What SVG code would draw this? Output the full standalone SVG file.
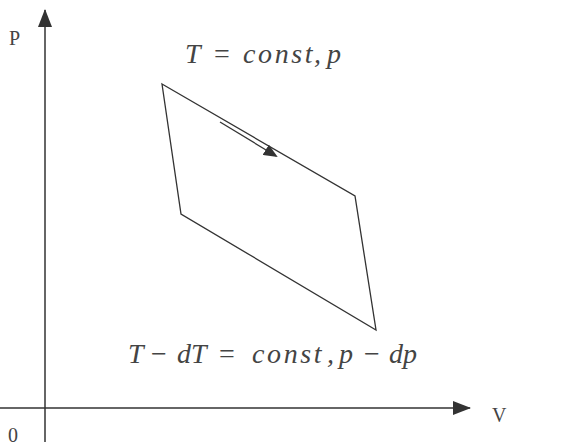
<svg xmlns="http://www.w3.org/2000/svg" width="561" height="445" viewBox="0 0 561 445">
<style>
.ln{stroke:#333;stroke-width:1.3;fill:none}
.ax{stroke:#333;stroke-width:1.5;fill:none}
.lab{font-family:"Liberation Serif",serif;font-size:20px;fill:#444}
.eq{font-family:"Liberation Serif",serif;font-style:italic;font-size:28px;fill:#444}
.up{font-style:normal}
.cs{letter-spacing:2.6px}
</style>
<defs>
<marker id="ah" markerWidth="14" markerHeight="12" refX="12" refY="6" orient="auto" markerUnits="userSpaceOnUse">
<path d="M0,0 L14,6 L0,12 Z" fill="#333"/>
</marker>
<marker id="sh" markerWidth="18" markerHeight="14" refX="17" refY="7" orient="auto" markerUnits="userSpaceOnUse">
<path d="M0,0 L18,7 L0,14 Z" fill="#333"/>
</marker>
</defs>
<rect width="561" height="445" fill="#fff"/>
<g id="connectors">
<line class="ax" x1="45" y1="442" x2="45" y2="10" marker-end="url(#sh)"/>
<line class="ax" x1="0" y1="408" x2="470" y2="408" marker-end="url(#sh)"/>
<line class="ln" x1="220" y1="122" x2="276" y2="156" marker-end="url(#ah)"/>
</g>
<g id="cycle">
<polygon class="ln" points="162,84 355,196 376,330 181,214"/>
</g>
<g id="labels">
<text class="lab" x="9" y="45">P</text>
<text class="lab" x="8" y="442">0</text>
<text class="lab" x="492" y="422">V</text>
<text class="eq" y="63"><tspan x="185">T</tspan><tspan class="up" x="214">=</tspan><tspan class="cs" x="243">const</tspan><tspan x="314">,</tspan><tspan x="327">p</tspan></text>
<text class="eq" y="363"><tspan x="128">T</tspan><tspan class="up" x="151">−</tspan><tspan x="177">dT</tspan><tspan class="up" x="219">=</tspan><tspan class="cs" x="252">const</tspan><tspan x="327">,</tspan><tspan x="339">p</tspan><tspan class="up" x="364">−</tspan><tspan x="389">dp</tspan></text>
</g>
</svg>
